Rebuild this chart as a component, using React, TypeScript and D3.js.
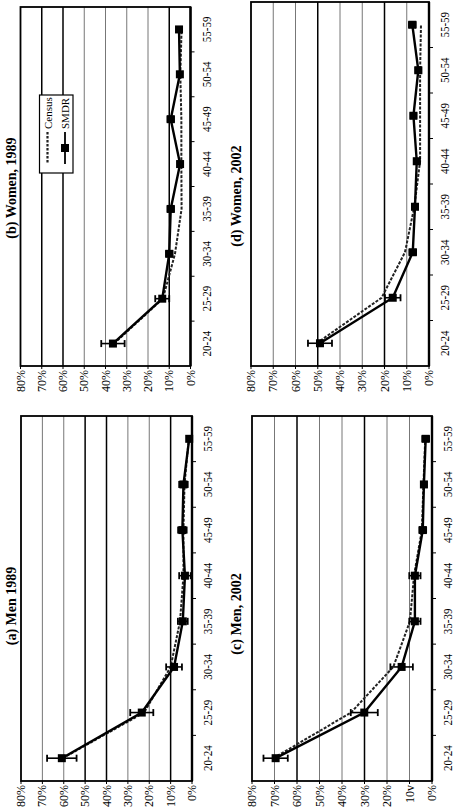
import React, { useEffect, useRef } from "react"
import * as d3 from "d3"

const ages = ["20-24", "25-29", "30-34", "35-39", "40-44", "45-49", "50-54", "55-59"]
const pctTicks = [0, 10, 20, 30, 40, 50, 60, 70, 80]
const pctLabels = ["0%", "10%", "20%", "30%", "40%", "50%", "60%", "70%", "80%"]
// panel (c) has a typo on its 10% label in the original figure
const pctLabelsC = ["0%", "10v", "20%", "30%", "40%", "50%", "60%", "70%", "80%"]

// percent values, 20-24 first
const men1989Smdr = [60.9, 23.5, 8.4, 4.3, 3.3, 4.5, 4.0, 1.3]
const men1989Err = [6.9, 5.4, 3.7, 2.3, 2.7, 2.0, 2.0, 0.5]
const men1989Census = [60.5, 22.4, 10.0, 5.6, 4.0, 4.0, 3.5, 1.5]

const women1989Smdr = [36.5, 13.3, 10.0, 9.3, 4.9, 9.3, 5.0, 5.4]
const women1989Err = [5.5, 3.3, 1.5, 1.5, 1.0, 1.5, 0.8, 1.0]
const women1989Census = [36.0, 13.0, 7.3, 4.2, 4.3, 4.3, 4.8, 4.2]

const men2002Smdr = [69.5, 30.1, 13.5, 7.6, 7.6, 4.1, 3.6, 2.8]
const men2002Err = [5.4, 6.0, 5.0, 2.5, 2.5, 1.5, 1.3, 1.5]
const men2002Census = [70.5, 36.0, 17.2, 9.8, 8.0, 4.5, 3.8, 3.0]

const women2002Smdr = [49.0, 16.3, 7.3, 6.3, 5.5, 7.0, 4.8, 7.5]
const women2002Err = [5.4, 3.5, 1.5, 1.3, 1.3, 1.3, 1.3, 1.5]
const women2002Census = [50.5, 21.3, 10.8, 6.6, 4.0, 4.0, 4.0, 3.6]

const panels = [
  { title: "(b) Women, 1989", smdr: women1989Smdr, err: women1989Err, census: women1989Census, labels: pctLabels,
    left: 20.5, right: 190.5, top: 7, bottom: 366, titleX: 15.5, titleY: 188, dark: [10, 60, 70], legend: true },
  { title: "(a) Men 1989", smdr: men1989Smdr, err: men1989Err, census: men1989Census, labels: pctLabels,
    left: 21, right: 192, top: 416, bottom: 781, titleX: 15.5, titleY: 606, dark: [10, 40, 50], legend: false },
  { title: "(d) Women, 2002", smdr: women2002Smdr, err: women2002Err, census: women2002Census, labels: pctLabels,
    left: 251, right: 429, top: 2, bottom: 366, titleX: 241, titleY: 196, dark: [20, 50], legend: false },
  { title: "(c) Men, 2002", smdr: men2002Smdr, err: men2002Err, census: men2002Census, labels: pctLabelsC,
    left: 252, right: 432, top: 416, bottom: 781, titleX: 241, titleY: 614, dark: [30, 60], legend: false },
]

const font = "'Liberation Serif', 'Times New Roman', serif"

export default function App() {
  const ref = useRef<SVGSVGElement>(null)

  useEffect(() => {
    const svg = d3.select(ref.current)
    svg.selectAll("*").remove()

    panels.forEach((p) => {
      const g = svg.append("g")
      const x = d3.scaleLinear().domain([0, 80]).range([p.right, p.left])
      const y = d3.scaleBand().domain(ages).range([p.bottom, p.top])
      const cy = (a: string) => (y(a) as number) + y.bandwidth() / 2

      // gridlines
      pctTicks.filter((t) => t > 0 && t < 80).forEach((t) => {
        const dark = p.dark.includes(t)
        g.append("line")
          .attr("x1", x(t)).attr("x2", x(t))
          .attr("y1", p.top).attr("y2", p.bottom)
          .attr("stroke", dark ? "#000" : "#777")
          .attr("stroke-width", dark ? 1.5 : 1)
      })

      g.append("rect")
        .attr("x", p.left).attr("y", p.top)
        .attr("width", p.right - p.left).attr("height", p.bottom - p.top)
        .attr("fill", "none").attr("stroke", "#000").attr("stroke-width", 1.8)
      g.append("line")
        .attr("x1", p.right).attr("x2", p.right)
        .attr("y1", p.top).attr("y2", p.bottom)
        .attr("stroke", "#000").attr("stroke-width", 2.4)

      // age axis ticks (band boundaries)
      d3.range(1, ages.length).forEach((i) => {
        const yy = p.bottom - i * y.bandwidth()
        g.append("line")
          .attr("x1", p.right).attr("x2", p.right + 4)
          .attr("y1", yy).attr("y2", yy)
          .attr("stroke", "#000").attr("stroke-width", 1)
      })
      ages.forEach((a) => {
        g.append("text")
          .attr("transform", `translate(${p.right + 20},${cy(a)}) rotate(-90) scale(0.88,1)`)
          .attr("text-anchor", "middle")
          .attr("font-family", font).attr("font-size", 12.5)
          .text(a)
      })

      // percent axis
      pctTicks.forEach((t, i) => {
        g.append("line")
          .attr("x1", x(t)).attr("x2", x(t))
          .attr("y1", p.bottom).attr("y2", p.bottom + 3)
          .attr("stroke", "#000").attr("stroke-width", 1)
        g.append("text")
          .attr("transform", `translate(${x(t) + 4},${p.bottom + 4}) rotate(-90)`)
          .attr("text-anchor", "end")
          .attr("font-family", font).attr("font-size", 12)
          .text(p.labels[i])
      })

      // title
      g.append("text")
        .attr("transform", `translate(${p.titleX},${p.titleY}) rotate(-90)`)
        .attr("text-anchor", "middle")
        .attr("font-family", font).attr("font-size", 14).attr("font-weight", "bold")
        .text(p.title)

      const line = d3.line<number>()
        .x((d) => x(d))
        .y((d, i) => cy(ages[i]))

      g.append("path")
        .attr("d", line(p.census))
        .attr("fill", "none").attr("stroke", "#222")
        .attr("stroke-width", 2).attr("stroke-dasharray", "3,1.5")

      g.append("path")
        .attr("d", line(p.smdr))
        .attr("fill", "none").attr("stroke", "#000").attr("stroke-width", 2.4)

      p.smdr.forEach((v, i) => {
        const yy = cy(ages[i])
        const e = p.err[i]
        g.append("line")
          .attr("x1", x(v - e)).attr("x2", x(v + e))
          .attr("y1", yy).attr("y2", yy)
          .attr("stroke", "#000").attr("stroke-width", 1.6)
        ;[v - e, v + e].forEach((c) => {
          g.append("line")
            .attr("x1", x(c)).attr("x2", x(c))
            .attr("y1", yy - 3.5).attr("y2", yy + 3.5)
            .attr("stroke", "#000").attr("stroke-width", 1.8)
        })
        g.append("rect")
          .attr("x", x(v) - 4).attr("y", yy - 4)
          .attr("width", 8).attr("height", 8)
          .attr("fill", "#000")
      })

      if (p.legend) {
        const lg = g.append("g")
        lg.append("rect")
          .attr("x", 39.5).attr("y", 95).attr("width", 33.5).attr("height", 78)
          .attr("fill", "#fff").attr("stroke", "#000").attr("stroke-width", 1.2)
        lg.append("line")
          .attr("x1", 47.5).attr("x2", 47.5).attr("y1", 132).attr("y2", 164)
          .attr("stroke", "#222").attr("stroke-width", 2.2).attr("stroke-dasharray", "2.5,1.5")
        lg.append("text")
          .attr("transform", "translate(51.5,129) rotate(-90)")
          .attr("font-family", font).attr("font-size", 11)
          .text("Census")
        lg.append("line")
          .attr("x1", 65).attr("x2", 65).attr("y1", 132).attr("y2", 164)
          .attr("stroke", "#000").attr("stroke-width", 1.8)
        lg.append("rect")
          .attr("x", 61).attr("y", 144).attr("width", 8).attr("height", 8).attr("fill", "#000")
        lg.append("text")
          .attr("transform", "translate(69,129) rotate(-90)")
          .attr("font-family", font).attr("font-size", 11)
          .text("SMDR")
      }
    })
  }, [])

  return (
    <svg ref={ref} width={455} height={808}
      style={{ position: "absolute", left: 0, top: 0, background: "#fff" }} />
  )
}
